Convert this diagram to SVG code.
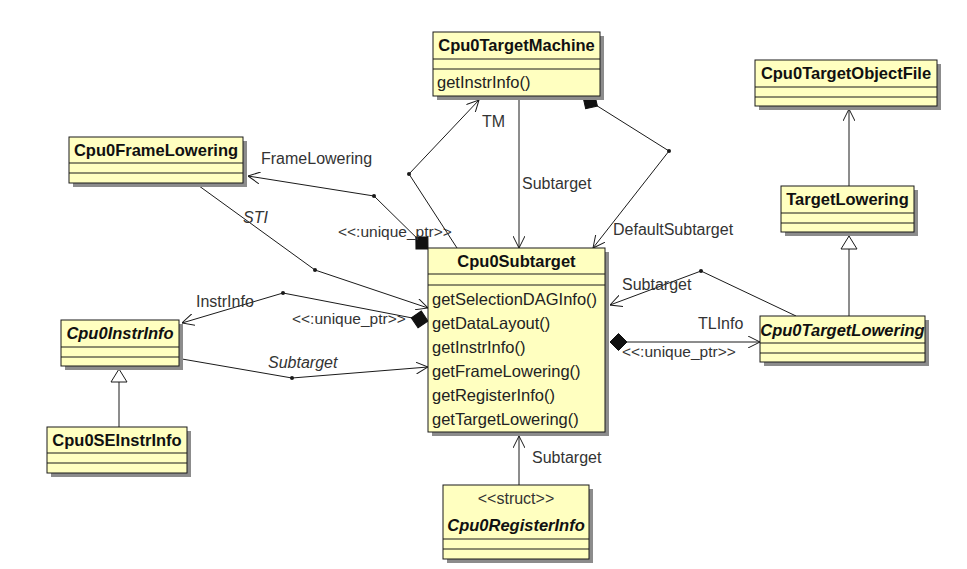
<svg xmlns="http://www.w3.org/2000/svg" width="967" height="569" viewBox="0 0 967 569">
<style>
.sh{fill:#8c8c8c}
.bx{fill:#ffffc0;stroke:#1a1a1a;stroke-width:1}
.dv{stroke:#1a1a1a;stroke-width:1}
.t{font-family:"Liberation Sans",Arial,sans-serif;font-size:16.5px;font-weight:bold;fill:#111;text-anchor:middle}
.ti{font-style:italic}
.m{font-family:"Liberation Sans",Arial,sans-serif;font-size:16.5px;fill:#222}
.s{font-family:"Liberation Sans",Arial,sans-serif;font-size:16px;fill:#333;text-anchor:middle}
.l{font-family:"Liberation Sans",Arial,sans-serif;font-size:16px;fill:#333}
.u{font-size:15.5px}
.li{font-style:italic}
.c{fill:none;stroke:#1a1a1a;stroke-width:1}
.dot{fill:#1a1a1a}
</style>
<defs>
<marker id="open" viewBox="0 0 12 12" refX="12" refY="6" markerWidth="12" markerHeight="12" markerUnits="userSpaceOnUse" orient="auto">
<path d="M0,0 L12,6 L0,12" fill="none" stroke="#1a1a1a" stroke-width="1"/>
</marker>
<marker id="dia" viewBox="-1 -1 19 19" refX="0" refY="8.5" markerWidth="19" markerHeight="19" markerUnits="userSpaceOnUse" orient="auto">
<path d="M0,8.5 L8.5,0 L17,8.5 L8.5,17 Z" fill="#111" stroke="#111" stroke-width="1"/>
</marker>
<marker id="gen" viewBox="-1 -1 15 18" refX="13" refY="8" markerWidth="15" markerHeight="18" markerUnits="userSpaceOnUse" orient="auto">
<path d="M0,0 L13,8 L0,16 Z" fill="#fff" stroke="#1a1a1a" stroke-width="1"/>
</marker>
</defs>

<g id="connectors">
<polyline class="c" points="457,248 409,174 479,100" marker-end="url(#open)"/>
<circle class="dot" cx="409" cy="174" r="2"/>
<text class="l" x="482" y="127">TM</text>
<line class="c" x1="519" y1="96" x2="519" y2="248" marker-end="url(#open)"/>
<text class="l" x="522" y="189">Subtarget</text>
<polyline class="c" points="583,97 669,151 593,248" marker-start="url(#dia)" marker-end="url(#open)"/>
<circle class="dot" cx="669" cy="151" r="2"/>
<text class="l" x="613" y="235">DefaultSubtarget</text>
<polyline class="c" points="428,249 374,196 248,176" marker-start="url(#dia)" marker-end="url(#open)"/>
<circle class="dot" cx="374" cy="196" r="2"/>
<text class="l" x="261" y="164">FrameLowering</text>
<text class="l u" x="338" y="237">&lt;&lt;:unique_ptr&gt;&gt;</text>
<polyline class="c" points="195,183 315,270 428,308" marker-end="url(#open)"/>
<circle class="dot" cx="315" cy="270" r="2"/>
<text class="l li" x="243" y="223">STI</text>
<polyline class="c" points="428,321 283,293 182,323" marker-start="url(#dia)" marker-end="url(#open)"/>
<circle class="dot" cx="283" cy="293" r="2"/>
<text class="l" x="196" y="307">InstrInfo</text>
<text class="l u" x="292" y="324">&lt;&lt;:unique_ptr&gt;&gt;</text>
<polyline class="c" points="182,359 292,378 428,367" marker-end="url(#open)"/>
<circle class="dot" cx="292" cy="378" r="2"/>
<text class="l li" x="268" y="368">Subtarget</text>
<line class="c" x1="119" y1="427" x2="119" y2="369" marker-end="url(#gen)"/>
<line class="c" x1="610" y1="342" x2="760" y2="342" marker-start="url(#dia)" marker-end="url(#open)"/>
<text class="l" x="698" y="329">TLInfo</text>
<text class="l u" x="622" y="357">&lt;&lt;:unique_ptr&gt;&gt;</text>
<polyline class="c" points="796,316 701,271 610,305" marker-end="url(#open)"/>
<circle class="dot" cx="701" cy="271" r="2"/>
<text class="l" x="622" y="290">Subtarget</text>
<line class="c" x1="849" y1="316" x2="849" y2="236" marker-end="url(#gen)"/>
<line class="c" x1="849" y1="186" x2="849" y2="109" marker-end="url(#open)"/>
<line class="c" x1="519" y1="485" x2="519" y2="436" marker-end="url(#open)"/>
<text class="l" x="532" y="463">Subtarget</text>
</g>

<g id="Cpu0TargetMachine">
<rect class="sh" x="437" y="36" width="167" height="64"/>
<rect class="bx" x="433" y="32" width="167" height="64"/>
<line class="dv" x1="433" y1="59" x2="600" y2="59"/>
<line class="dv" x1="433" y1="69" x2="600" y2="69"/>
<text class="t" x="516.5" y="51">Cpu0TargetMachine</text>
<text class="m" x="437" y="88">getInstrInfo()</text>
</g>

<g id="Cpu0FrameLowering">
<rect class="sh" x="73" y="141" width="174" height="46"/>
<rect class="bx" x="69" y="137" width="174" height="46"/>
<line class="dv" x1="69" y1="163" x2="243" y2="163"/>
<line class="dv" x1="69" y1="173" x2="243" y2="173"/>
<text class="t" x="156" y="156">Cpu0FrameLowering</text>
</g>

<g id="Cpu0InstrInfo">
<rect class="sh" x="65" y="324" width="118" height="46"/>
<rect class="bx" x="61" y="320" width="118" height="46"/>
<line class="dv" x1="61" y1="347" x2="179" y2="347"/>
<line class="dv" x1="61" y1="357" x2="179" y2="357"/>
<text class="t ti" x="120" y="339">Cpu0InstrInfo</text>
</g>

<g id="Cpu0SEInstrInfo">
<rect class="sh" x="51" y="431" width="140" height="46"/>
<rect class="bx" x="47" y="427" width="140" height="46"/>
<line class="dv" x1="47" y1="453" x2="187" y2="453"/>
<line class="dv" x1="47" y1="463" x2="187" y2="463"/>
<text class="t" x="117" y="446">Cpu0SEInstrInfo</text>
</g>

<g id="Cpu0Subtarget">
<rect class="sh" x="432" y="252" width="177" height="184"/>
<rect class="bx" x="428" y="248" width="177" height="184"/>
<line class="dv" x1="428" y1="274" x2="605" y2="274"/>
<line class="dv" x1="428" y1="285" x2="605" y2="285"/>
<text class="t" x="516.5" y="267">Cpu0Subtarget</text>
<text class="m" x="432" y="305">getSelectionDAGInfo()</text>
<text class="m" x="432" y="329">getDataLayout()</text>
<text class="m" x="432" y="353">getInstrInfo()</text>
<text class="m" x="432" y="377">getFrameLowering()</text>
<text class="m" x="432" y="401">getRegisterInfo()</text>
<text class="m" x="432" y="425">getTargetLowering()</text>
</g>

<g id="Cpu0TargetObjectFile">
<rect class="sh" x="759" y="64" width="182" height="46"/>
<rect class="bx" x="755" y="60" width="182" height="46"/>
<line class="dv" x1="755" y1="87" x2="937" y2="87"/>
<line class="dv" x1="755" y1="97" x2="937" y2="97"/>
<text class="t" x="846" y="79">Cpu0TargetObjectFile</text>
</g>

<g id="TargetLowering">
<rect class="sh" x="785" y="190" width="133" height="46"/>
<rect class="bx" x="781" y="186" width="133" height="46"/>
<line class="dv" x1="781" y1="213" x2="914" y2="213"/>
<line class="dv" x1="781" y1="223" x2="914" y2="223"/>
<text class="t" x="847.5" y="205">TargetLowering</text>
</g>

<g id="Cpu0TargetLowering">
<rect class="sh" x="764" y="320" width="165" height="46"/>
<rect class="bx" x="760" y="316" width="165" height="46"/>
<line class="dv" x1="760" y1="343" x2="925" y2="343"/>
<line class="dv" x1="760" y1="353" x2="925" y2="353"/>
<text class="t ti" x="842.5" y="336">Cpu0TargetLowering</text>
</g>

<g id="Cpu0RegisterInfo">
<rect class="sh" x="447" y="489" width="146" height="74"/>
<rect class="bx" x="443" y="485" width="146" height="74"/>
<line class="dv" x1="443" y1="539" x2="589" y2="539"/>
<line class="dv" x1="443" y1="549" x2="589" y2="549"/>
<text class="s" x="516" y="504">&lt;&lt;struct&gt;&gt;</text>
<text class="t ti" x="516" y="531">Cpu0RegisterInfo</text>
</g>
</svg>
